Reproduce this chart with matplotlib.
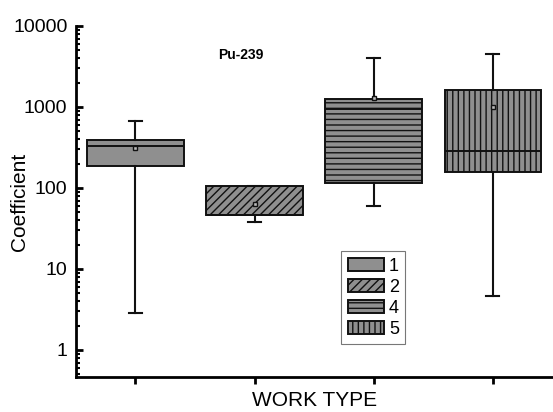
import matplotlib
matplotlib.use("Agg")
import matplotlib.pyplot as plt
from matplotlib.ticker import LogLocator, FixedFormatter, FixedLocator, NullFormatter

# --------------------------------------------------------------------------- #
# Data (Pu-239 coefficients per work type)
# --------------------------------------------------------------------------- #
work_types = ["1", "2", "4", "5"]
q1 = [187, 46, 115, 158]
median = [330, 46, 944, 286]
q3 = [391, 106, 1256, 1622]
whisker_lo = [2.9, 38, 60, 4.6]
whisker_hi = [671, 106, 4025, 4510]
means = [312, 63, 1300, 1000]
hatches = ["", "////", "---", "|||"]

y_ticks = [1, 10, 100, 1000, 10000]
y_tick_labels = ["1", "10", "100", "1000", "10000"]

plt.rcParams["font.family"] = ["Liberation Sans", "DejaVu Sans"]
plt.rcParams["hatch.linewidth"] = 1.0

fig = plt.figure(figsize=(5.53, 4.12), dpi=100)
ax = fig.add_axes([0.137, 0.085, 0.862, 0.852])

stats = []
for i, name in enumerate(work_types):
    stats.append({"label": name, "q1": q1[i], "med": median[i], "q3": q3[i],
                  "whislo": whisker_lo[i], "whishi": whisker_hi[i],
                  "mean": means[i], "fliers": []})

positions = list(range(1, len(work_types) + 1))
bp = ax.bxp(stats, positions=positions, widths=0.81, capwidths=0.11,
            patch_artist=True, showmeans=True, showfliers=False,
            boxprops=dict(facecolor="#8f8f8f", edgecolor="#111111", linewidth=1.4),
            medianprops=dict(color="#111111", linewidth=1.4),
            whiskerprops=dict(color="#111111", linewidth=1.5),
            capprops=dict(color="#111111", linewidth=1.5),
            meanprops=dict(marker="s", markersize=3.5, markerfacecolor="#bbbbbb",
                           markeredgecolor="#111111", markeredgewidth=1.0))
for box, h in zip(bp["boxes"], hatches):
    box.set_hatch(h)

ax.set_yscale("log")
ax.set_ylim(0.464, 10000)
ax.set_xlim(0.5, 4.5)

ax.yaxis.set_major_locator(FixedLocator(y_ticks))
ax.yaxis.set_major_formatter(FixedFormatter(y_tick_labels))
ax.yaxis.set_minor_locator(LogLocator(base=10, subs=range(2, 10), numticks=20))
ax.yaxis.set_minor_formatter(NullFormatter())

ax.set_xticks(positions)
ax.set_xticklabels([])

for side in ("top", "right"):
    ax.spines[side].set_visible(False)
for side in ("left", "bottom"):
    ax.spines[side].set_linewidth(2.0)

ax.tick_params(axis="y", which="major", direction="in", length=5, width=2.0,
               labelsize=14, pad=6)
ax.tick_params(axis="y", which="minor", direction="in", length=3, width=1.5)
ax.tick_params(axis="x", which="major", direction="out", length=5, width=2.0)

ax.set_ylabel("Coefficient", fontsize=15, va="center")
ax.yaxis.set_label_coords(-0.117, 0.5)
ax.set_xlabel("WORK TYPE", fontsize=15, va="center")
ax.xaxis.set_label_coords(0.5, -0.066)

ax.text(0.346, 0.917, "Pu-239", transform=ax.transAxes, ha="center", va="center",
        fontsize=10, fontweight="bold")

leg = ax.legend(bp["boxes"], work_types, loc="lower left",
                bbox_to_anchor=(0.557, 0.094), fontsize=13, frameon=True,
                fancybox=False, edgecolor="#555555", handlelength=2.0,
                handleheight=0.7, labelspacing=0.22, handletextpad=0.3,
                borderpad=0.35, borderaxespad=0.0)
leg.get_frame().set_linewidth(0.8)

fig.savefig("out.png", dpi=100)
